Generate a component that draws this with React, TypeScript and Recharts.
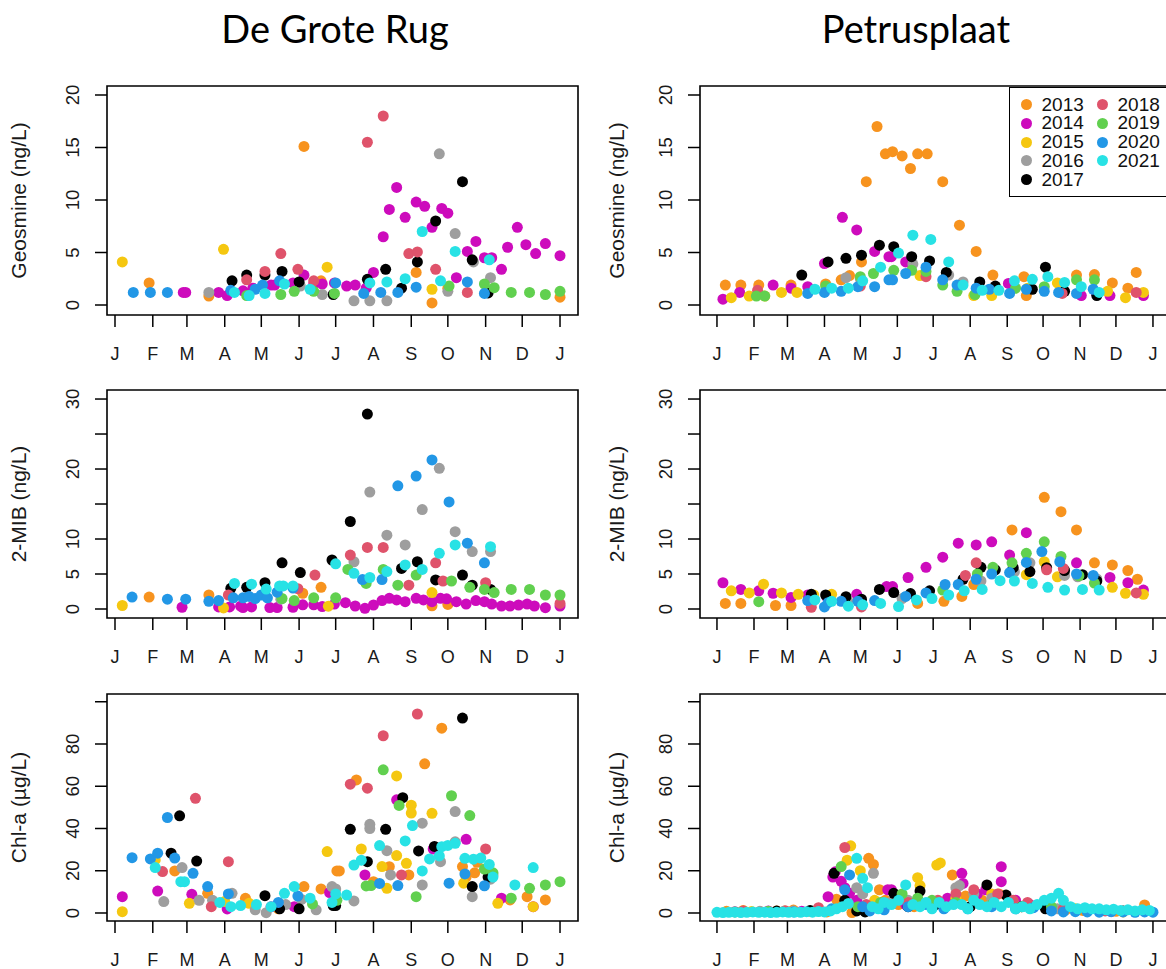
import React from "react";
import { ScatterChart, Scatter, XAxis, YAxis, ReferenceArea } from "recharts";

const FONT = '"Liberation Sans", Arial, sans-serif';

const YEARS = [2013, 2014, 2015, 2016, 2017, 2018, 2019, 2020, 2021];
const COLORS = ["#F7931E", "#CD0BBC", "#F5C710", "#9E9E9E", "#000000", "#DF536B", "#61D04F", "#2297E6", "#28E2E5"];

// day of year where each month starts
const MONTH_DAYS = [0, 31, 59, 90, 120, 151, 181, 212, 243, 273, 304, 334, 365];
const MONTH_LABELS = ["J", "F", "M", "A", "M", "J", "J", "A", "S", "O", "N", "D", "J"];

const GEO_TICKS = [0, 5, 10, 15, 20];
const MIB_TICKS = [0, 5, 10, 15, 20, 25, 30];
const MIB_LABELS = [0, 5, 10, 20, 30];
const CHL_TICKS = [0, 20, 40, 60, 80, 100];
const CHL_LABELS = [0, 20, 40, 60, 80];

type Pt = [number, number]; // [day of year, value]

// Geosmine, De Grote Rug
const RUG_GEOSMINE: Record<number, Pt[]> = {
  2013: [[28, 2.1], [77, 0.85], [155, 15.1], [169, 2.3], [247, 3.1], [260, 0.2], [273, 1.6], [365, 0.75]],
  2014: [[56, 1.2], [58, 1.2], [85, 1.2], [92, 0.9], [105, 1.35], [113, 1.6], [128, 1.9], [131, 1.9], [146, 2.1], [155, 2.85], [163, 2.0], [170, 2.0], [180, 2.1], [190, 1.8], [197, 1.9], [206, 1.6], [212, 3.1], [220, 6.5], [225, 9.1], [231, 11.2], [238, 8.35], [247, 9.8], [254, 9.4], [260, 7.4], [268, 9.2], [273, 8.75], [280, 2.6], [289, 5.1], [296, 6.05], [303, 4.5], [309, 4.5], [317, 3.4], [322, 5.5], [330, 7.4], [337, 5.75], [345, 4.9], [353, 5.85], [365, 4.7]],
  2015: [[6, 4.1], [89, 5.3], [174, 3.6], [260, 1.5]],
  2016: [[77, 1.2], [152, 1.8], [170, 1.0], [196, 0.4], [209, 0.4], [223, 0.4], [266, 14.4], [273, 1.3], [279, 6.8], [294, 4.1], [308, 2.6]],
  2017: [[96, 2.3], [108, 2.85], [123, 2.85], [137, 3.2], [151, 2.2], [179, 1.0], [207, 2.45], [222, 3.4], [235, 1.6], [248, 4.1], [263, 8.0], [285, 11.75], [293, 4.3], [306, 1.15]],
  2018: [[108, 2.4], [123, 3.2], [136, 4.9], [150, 3.4], [163, 2.3], [207, 15.5], [220, 18.0], [241, 4.9], [248, 5.05], [263, 3.4], [289, 1.2]],
  2019: [[108, 0.9], [136, 1.0], [147, 1.3], [163, 1.3], [180, 1.1], [274, 1.8], [303, 2.0], [311, 1.65], [325, 1.2], [340, 1.2], [353, 1.0], [365, 1.3]],
  2020: [[15, 1.2], [29, 1.2], [43, 1.2], [95, 1.4], [115, 1.5], [121, 1.9], [135, 2.3], [181, 2.1], [204, 1.1], [218, 1.2], [232, 1.2], [247, 1.7], [289, 2.2], [303, 1.1]],
  2021: [[98, 1.2], [110, 0.9], [123, 1.1], [139, 2.0], [160, 1.5], [209, 2.1], [223, 2.2], [238, 2.5], [252, 7.0], [267, 2.3], [279, 5.1], [307, 4.3]],
};

// Geosmine, Petrusplaat
const PET_GEOSMINE: Record<number, Pt[]> = {
  2013: [[7, 1.9], [20, 1.9], [35, 1.9], [62, 1.9], [91, 2.0], [104, 2.4], [111, 2.8], [121, 4.1], [125, 11.75], [134, 17.0], [141, 14.4], [147, 14.6], [155, 14.2], [162, 13.0], [168, 14.4], [176, 14.4], [189, 11.75], [203, 7.6], [217, 5.1], [231, 2.85], [257, 2.7], [259, 0.9], [301, 2.85], [316, 2.9], [331, 2.1], [344, 1.6], [351, 3.1]],
  2014: [[5, 0.55], [19, 1.2], [47, 1.9], [62, 1.6], [76, 1.75], [90, 3.95], [105, 8.35], [117, 7.15], [132, 5.1], [144, 4.6], [146, 4.6], [158, 4.1], [244, 2.05], [305, 0.9], [318, 1.0], [329, 0.9], [357, 0.9]],
  2015: [[12, 0.7], [27, 0.85], [40, 0.85], [54, 1.2], [67, 1.2], [170, 2.8], [215, 0.9], [230, 0.9], [260, 1.6], [285, 2.1], [327, 1.3], [342, 0.7], [357, 1.2]],
  2016: [[108, 2.6], [120, 2.5], [164, 3.9], [194, 2.85], [206, 2.2]],
  2017: [[71, 2.85], [93, 4.1], [108, 4.45], [121, 4.75], [136, 5.7], [148, 5.55], [163, 4.6], [178, 4.2], [192, 3.1], [220, 2.2], [233, 1.8], [264, 1.5], [275, 3.6], [291, 1.3], [318, 0.9]],
  2018: [[34, 1.4], [120, 1.8], [175, 2.7], [289, 1.1], [351, 1.2]],
  2019: [[33, 0.85], [40, 0.85], [91, 1.8], [120, 2.7], [131, 3.0], [148, 3.3], [163, 3.3], [175, 3.2], [189, 1.9], [201, 1.3], [216, 1.0], [250, 1.6], [274, 1.75], [301, 2.4], [316, 2.4]],
  2020: [[76, 1.1], [90, 1.2], [104, 1.3], [118, 1.75], [132, 1.75], [144, 2.4], [147, 2.4], [158, 3.0], [175, 3.6], [189, 2.4], [201, 1.9], [217, 1.6], [228, 1.5], [245, 1.1], [259, 1.5], [274, 1.3], [286, 1.2], [301, 1.1], [315, 1.5]],
  2021: [[82, 1.5], [96, 1.6], [110, 1.6], [122, 2.3], [137, 3.6], [152, 4.95], [164, 6.65], [179, 6.25], [194, 4.1], [206, 1.9], [222, 1.4], [236, 1.4], [249, 2.3], [264, 2.45], [277, 2.7], [291, 2.15], [305, 1.75], [320, 1.2]],
};

// 2-MIB, De Grote Rug
const RUG_MIB: Record<number, Pt[]> = {
  2013: [[28, 1.7], [77, 2.0], [154, 2.25], [169, 3.1], [260, 0.45], [273, 0.65]],
  2014: [[55, 0.25], [85, 0.3], [94, 0.3], [103, 0.4], [105, 0.2], [112, 0.3], [127, 0.2], [133, 0.2], [146, 0.25], [154, 0.6], [163, 0.6], [170, 0.35], [180, 0.7], [189, 0.9], [197, 0.43], [205, 0.1], [212, 0.57], [219, 1.2], [225, 1.52], [231, 1.29], [238, 1.05], [247, 1.52], [253, 1.29], [260, 1.05], [267, 1.52], [272, 1.45], [280, 1.05], [288, 0.7], [296, 1.2], [303, 1.05], [309, 0.7], [317, 0.43], [324, 0.43], [331, 0.57], [338, 0.7], [344, 0.43], [353, 0.19], [365, 0.43]],
  2015: [[6, 0.5], [89, 0.15], [175, 0.4], [260, 2.35]],
  2016: [[136, 1.4], [196, 6.75], [209, 16.7], [223, 10.55], [238, 9.15], [252, 14.2], [266, 20.1], [279, 11.05], [293, 8.2], [308, 8.2]],
  2017: [[95, 2.95], [108, 3.1], [123, 3.75], [137, 6.6], [152, 5.2], [178, 7.0], [193, 12.5], [207, 27.85], [235, 5.8], [248, 6.75], [263, 4.15], [285, 4.85], [293, 3.4], [308, 2.8]],
  2018: [[93, 2.0], [150, 2.9], [164, 4.85], [193, 7.7], [207, 8.8], [220, 8.8], [241, 3.4], [263, 6.6], [269, 4.0], [304, 3.75], [365, 0.8]],
  2019: [[137, 1.5], [147, 1.2], [163, 1.6], [181, 1.6], [191, 5.65], [206, 3.65], [220, 5.65], [232, 3.4], [247, 4.85], [276, 4.0], [291, 3.1], [303, 2.8], [311, 2.35], [325, 2.8], [340, 2.8], [353, 2.0], [365, 2.0]],
  2020: [[14, 1.7], [43, 1.4], [58, 1.4], [77, 1.1], [85, 1.2], [97, 1.6], [105, 1.6], [110, 1.8], [115, 1.5], [120, 2.0], [125, 1.6], [133, 2.4], [146, 3.0], [203, 4.2], [219, 4.2], [232, 17.6], [247, 19.0], [260, 21.3], [274, 15.3], [289, 9.4], [303, 6.6]],
  2021: [[98, 3.65], [112, 3.55], [124, 2.85], [135, 3.3], [138, 3.3], [146, 3.3], [181, 6.45], [196, 5.1], [209, 4.5], [223, 5.35], [238, 6.3], [252, 5.65], [266, 7.95], [279, 9.15], [308, 8.9]],
};

// 2-MIB, Petrusplaat
const PET_MIB: Record<number, Pt[]> = {
  2013: [[7, 0.8], [20, 0.8], [49, 0.5], [62, 0.5], [168, 0.8], [190, 1.1], [205, 1.8], [215, 3.5], [247, 11.3], [274, 15.95], [288, 13.9], [301, 11.3], [316, 6.6], [331, 6.3], [344, 5.5], [352, 4.25]],
  2014: [[5, 3.75], [20, 2.8], [35, 2.6], [47, 2.25], [62, 1.65], [76, 2.0], [92, 1.7], [117, 2.1], [142, 3.2], [147, 3.2], [160, 4.5], [175, 5.95], [189, 7.4], [202, 9.4], [217, 9.15], [230, 9.6], [245, 7.7], [259, 10.9], [301, 6.6], [329, 4.5], [344, 3.75], [357, 2.7]],
  2015: [[12, 2.6], [27, 2.3], [39, 3.55], [54, 2.3], [68, 2.1], [81, 2.0], [96, 2.1], [259, 4.9], [274, 6.75], [285, 4.6], [331, 3.1], [342, 2.25], [357, 2.1]],
  2016: [[110, 1.0], [155, 1.5], [221, 4.0], [249, 5.3], [262, 6.6], [291, 4.8], [302, 4.6], [318, 4.3]],
  2017: [[79, 2.1], [91, 2.0], [108, 1.75], [121, 1.4], [136, 2.8], [148, 2.35], [162, 2.2], [178, 2.6], [206, 4.25], [221, 5.95], [233, 5.6], [248, 5.9], [262, 5.35], [276, 5.9], [291, 5.5], [306, 4.9], [318, 4.0]],
  2018: [[79, 0.25], [121, 0.3], [208, 4.8], [217, 6.6], [276, 5.6], [290, 5.8], [351, 2.3]],
  2019: [[35, 1.05], [189, 2.7], [218, 5.0], [231, 5.95], [247, 6.6], [259, 7.95], [274, 9.6], [288, 7.5], [303, 4.75], [316, 3.7]],
  2020: [[76, 1.2], [90, 0.3], [93, 0.9], [104, 1.1], [118, 1.1], [132, 1.2], [158, 1.8], [175, 2.3], [191, 3.5], [202, 3.5], [217, 4.25], [230, 5.0], [245, 5.2], [259, 6.65], [272, 8.2], [287, 6.75], [301, 5.0], [315, 4.8]],
  2021: [[82, 1.3], [96, 1.1], [110, 0.4], [122, 0.6], [137, 0.8], [152, 0.35], [167, 1.3], [180, 1.5], [194, 2.0], [207, 2.6], [222, 2.8], [237, 4.05], [249, 4.0], [264, 3.65], [277, 3.1], [291, 2.7], [306, 2.8], [320, 2.7]],
};

// Chl-a, De Grote Rug
const RUG_CHL: Record<number, Pt[]> = {
  2013: [[49, 19.9], [76, 9.3], [107, 6.95], [134, 2.0], [155, 12.5], [169, 11.4], [182, 19.9], [184, 19.9], [198, 63], [212, 14.8], [225, 21.9], [241, 18], [254, 70.6], [268, 87.5], [285, 22], [288, 17], [295, 19], [297, 24], [324, 6.2], [338, 7.7], [353, 6.2]],
  2014: [[6, 7.7], [35, 10.4], [63, 8.85], [92, 1.9], [128, 2.9], [147, 3.0], [176, 9.7], [180, 11], [205, 18], [231, 53.6], [261, 30.3], [288, 34.9], [317, 7.0], [343, 3.0]],
  2015: [[6, 0.6], [33, 25.1], [61, 4.6], [90, 5.5], [110, 4.6], [174, 29.1], [202, 30.3], [219, 22], [223, 11.7], [231, 27.2], [231, 64.9], [239, 23.5], [243, 51], [243, 47.3], [260, 47.2], [286, 14.1], [314, 4.6], [343, 3.0]],
  2016: [[40, 5.4], [55, 21.5], [69, 6.0], [80, 6.0], [96, 9.3], [115, 1.5], [124, 0.15], [140, 4.0], [153, 6.4], [165, 1.5], [178, 12.5], [181, 11.4], [196, 5.7], [209, 42], [209, 40], [223, 29.5], [226, 18], [252, 42.5], [252, 13.3], [267, 24.3], [279, 48], [279, 33.7], [293, 7.7], [308, 16], [310, 18]],
  2017: [[46, 28.3], [53, 46], [67, 24.6], [123, 8.2], [135, 2.0], [151, 2.0], [179, 3.5], [181, 3.5], [193, 39.6], [207, 24.3], [222, 39.6], [236, 54.6], [249, 29.4], [262, 31.5], [285, 92.3], [293, 12.5], [306, 17]],
  2018: [[39, 19.6], [66, 54.3], [79, 3.0], [93, 24.3], [193, 61], [207, 59.1], [220, 83.9], [235, 18], [248, 94.2], [304, 30.3]],
  2019: [[162, 4.3], [182, 6.0], [206, 12.8], [210, 13], [220, 67.8], [233, 50.9], [247, 7.7], [276, 55.5], [291, 46.1], [303, 20.8], [310, 19], [325, 7.0], [340, 11.7], [353, 13.3], [365, 14.8]],
  2020: [[14, 26.2], [29, 25.6], [35, 28.3], [43, 45.2], [49, 26], [64, 18.8], [76, 12.5], [93, 9.0], [134, 5.0], [150, 8.0], [217, 14], [232, 13], [274, 14.1], [287, 18.5], [303, 12.9]],
  2021: [[33, 21.5], [54, 14.8], [57, 14.8], [86, 5.0], [95, 3.0], [103, 3.5], [116, 4.0], [128, 3.0], [139, 9.3], [147, 12.5], [160, 7.0], [178, 5.0], [181, 9.0], [190, 8.5], [196, 22.7], [202, 25], [217, 31.9], [238, 34.1], [244, 41.4], [252, 19.9], [258, 25.6], [266, 27], [268, 31.4], [273, 32], [279, 33], [287, 25.9], [294, 25.5], [300, 26], [307, 23], [310, 17], [328, 13.3], [343, 21.5]],
};

// Chl-a, Petrusplaat
const PET_CHL: Record<number, Pt[]> = {
  2013: [[8, 0.8], [22, 1.2], [36, 0.6], [50, 1.0], [64, 1.4], [78, 0.8], [92, 0.5], [100, 6.5], [113, 0.2], [127, 25.9], [131, 23], [136, 11], [141, 6], [152, 4], [165, 3], [180, 5], [197, 18], [208, 8], [222, 6], [236, 9], [250, 4], [264, 3], [278, 2], [292, 1.5], [306, 1.2], [320, 1.0], [334, 0.8], [358, 3.8]],
  2014: [[15, 0.6], [43, 1.0], [71, 0.8], [93, 7.7], [97, 17], [99, 19.5], [104, 15], [107, 12], [111, 9.3], [117, 6], [143, 11], [146, 11], [158, 4], [170, 5], [193, 7], [205, 18.8], [206, 14], [218, 9], [225, 11], [238, 21.9], [238, 14.8], [250, 6], [262, 4], [290, 1.5], [330, 0.8]],
  2015: [[29, 0.7], [57, 1.0], [85, 0.9], [109, 25], [112, 31.8], [120, 20], [132, 6], [150, 8], [168, 16.7], [170, 13], [184, 22.7], [187, 23.7], [200, 7], [215, 5], [230, 9], [245, 6], [262, 3], [300, 2], [340, 0.5]],
  2016: [[36, 0.8], [64, 0.9], [117, 12], [122, 9], [131, 18.8], [145, 5], [160, 6], [178, 4], [200, 12], [203, 13], [215, 9], [230, 7], [248, 5], [265, 3], [285, 2]],
  2017: [[50, 0.9], [78, 1.2], [98, 18.8], [107, 6], [117, 1], [124, 0.5], [148, 9.3], [160, 3], [170, 10.4], [183, 4], [212, 3], [226, 13.3], [242, 8.5], [255, 3], [275, 2], [300, 1.5], [320, 1.2], [340, 1.0]],
  2018: [[22, 0.9], [57, 1.1], [85, 2.5], [107, 31], [125, 4], [140, 4], [160, 5], [185, 6], [200, 9], [215, 11], [235, 9], [248, 6], [260, 5], [290, 2], [325, 1.0]],
  2019: [[15, 0.5], [43, 0.8], [104, 22], [118, 3], [137, 5], [155, 9], [168, 7], [180, 6], [200, 5], [230, 4], [255, 3], [280, 3], [310, 1.0]],
  2020: [[64, 0.5], [96, 2], [107, 11], [111, 18], [122, 3], [128, 1], [140, 1.5], [160, 3], [175, 4], [190, 2], [210, 2], [230, 3], [250, 2], [265, 2.5], [280, 1.0], [290, 0.5], [300, 0.6], [310, 0.5], [320, 0.4], [330, 0.6], [340, 0.5], [350, 0.3], [358, 0.5], [365, 0.4]],
  2021: [[0, 0.3], [5, 0.2], [10, 0.3], [15, 0.4], [20, 0.2], [25, 0.3], [30, 0.5], [35, 0.3], [40, 0.4], [45, 0.2], [50, 0.3], [55, 0.5], [60, 0.3], [65, 0.4], [70, 0.3], [75, 0.6], [80, 0.4], [85, 0.7], [90, 0.5], [95, 1.0], [100, 2.0], [105, 3.0], [110, 4.5], [117, 25.9], [122, 16.4], [126, 12], [130, 3], [135, 2], [140, 5], [146, 4], [152, 6], [158, 13.3], [164, 4], [170, 3], [175, 5], [180, 2], [186, 5], [192, 3], [198, 4], [205, 4], [210, 2], [215, 6], [220, 4], [226, 3], [232, 5], [238, 3], [244, 5], [250, 2], [256, 3], [262, 2], [268, 4], [274, 6], [280, 7], [286, 9.3], [290, 6], [296, 3], [302, 2], [308, 2.5], [314, 2], [320, 2], [326, 1.5], [332, 1.8], [338, 1.2], [344, 1.5], [350, 1.0], [356, 1.5], [362, 1.2]],
};

// panel geometry (px on the page)
const COLS = {
  rug: { left: 0, boxLeft: 107, boxRight: 578, xDomain: [-6.56, 379.75] as [number, number], titleOffset: 19 },
  pet: { left: 600, boxLeft: 700, boxRight: 1171, xDomain: [-14.2, 380.1] as [number, number], titleOffset: 17 },
};
const ROWS = {
  geo: { boxTop: 86, boxBottom: 315, yDomain: [-0.952, 20.857] as [number, number], ticks: GEO_TICKS, labels: GEO_TICKS, title: "Geosmine (ng/L)" },
  mib: { boxTop: 390, boxBottom: 618, yDomain: [-1.286, 31.29] as [number, number], ticks: MIB_TICKS, labels: MIB_LABELS, title: "2-MIB (ng/L)" },
  chl: { boxTop: 694, boxBottom: 921, yDomain: [-3.79, 103.67] as [number, number], ticks: CHL_TICKS, labels: CHL_LABELS, title: "Chl-a (µg/L)" },
};

const toPoints = (pts: Pt[]) => pts.map(([x, y]) => ({ x, y }));

function makeYTick(shown: number[]) {
  return (props: any) => {
    const { x, y, payload } = props;
    if (!shown.includes(payload.value)) return <g />;
    return (
      <text
        x={0}
        y={0}
        transform={`translate(${x - 23},${y}) rotate(-90)`}
        textAnchor="middle"
        dominantBaseline="central"
        fontSize={18.5}
        fontFamily={FONT}
        fill="#1a1a1a"
      >
        {payload.value}
      </text>
    );
  };
}

function Panel({ col, row, data }: { col: typeof COLS.rug; row: typeof ROWS.geo; data: Record<number, Pt[]> }) {
  const padTop = 10;
  const padRight = 20;
  const axisH = 60;
  const w = col.boxRight - col.left + padRight;
  const h = row.boxBottom - row.boxTop + padTop + axisH;
  return (
    <div style={{ position: "absolute", left: col.left, top: row.boxTop - padTop }}>
      <ScatterChart width={w} height={h} margin={{ top: padTop, right: padRight, bottom: 0, left: 0 }}>
        <XAxis
          dataKey="x"
          type="number"
          domain={col.xDomain}
          allowDataOverflow
          ticks={MONTH_DAYS}
          interval={0}
          tickFormatter={(v) => MONTH_LABELS[MONTH_DAYS.indexOf(v)]}
          height={axisH}
          axisLine={false}
          tickLine={{ stroke: "#000", strokeWidth: 1.5 }}
          tickSize={12}
          tickMargin={20}
          tick={{ fontSize: 18, fontFamily: FONT, fill: "#1a1a1a" }}
        />
        <YAxis
          dataKey="y"
          type="number"
          domain={row.yDomain}
          allowDataOverflow
          ticks={row.ticks}
          interval={0}
          width={col.boxLeft - col.left}
          axisLine={false}
          tickLine={{ stroke: "#000", strokeWidth: 1.5 }}
          tickSize={12}
          tickMargin={0}
          tick={makeYTick(row.labels)}
          label={{
            value: row.title,
            angle: -90,
            position: "insideLeft",
            offset: col.titleOffset,
            style: { textAnchor: "middle", fontSize: 21, fontFamily: FONT, fill: "#1a1a1a" },
          }}
        />
        {YEARS.map((yr, i) => (
          <Scatter
            key={yr}
            name={String(yr)}
            data={toPoints(data[yr])}
            fill={COLORS[i]}
            isAnimationActive={false}
            shape={(p: any) => <circle cx={p.cx} cy={p.cy} r={5.5} fill={COLORS[i]} />}
          />
        ))}
        <ReferenceArea
          x1={col.xDomain[0]}
          x2={col.xDomain[1]}
          y1={row.yDomain[0]}
          y2={row.yDomain[1]}
          fill="none"
          stroke="#000"
          strokeWidth={1.6}
          ifOverflow="visible"
        />
      </ScatterChart>
    </div>
  );
}

function YearLegend() {
  return (
    <div
      style={{
        position: "absolute",
        left: 1009,
        top: 87,
        width: 172,
        height: 110,
        border: "1.5px solid #000",
        boxSizing: "border-box",
        background: "#fff",
      }}
    >
      {YEARS.map((yr, i) => {
        const c = i < 5 ? 0 : 1;
        const r = i < 5 ? i : i - 5;
        return (
          <div
            key={yr}
            style={{
              position: "absolute",
              left: 11 + c * 76,
              top: 7 + r * 18.75,
              height: 19,
              display: "flex",
              alignItems: "center",
              fontFamily: FONT,
              fontSize: 19,
              color: "#111",
              whiteSpace: "nowrap",
            }}
          >
            <span style={{ width: 11, height: 11, borderRadius: "50%", background: COLORS[i], marginRight: 9.5, flex: "none" }} />
            {yr}
          </div>
        );
      })}
    </div>
  );
}

const titleStyle: React.CSSProperties = {
  position: "absolute",
  top: 9,
  width: 400,
  textAlign: "center",
  fontFamily: "Lato, 'Open Sans', sans-serif",
  fontSize: 38,
  lineHeight: 1,
  color: "#000",
};

export default function App() {
  return (
    <div style={{ position: "absolute", left: 0, top: 0, width: 1166, height: 969, overflow: "hidden", background: "#fff" }}>
      <div style={{ ...titleStyle, left: 335 - 200 }}>De Grote Rug</div>
      <div style={{ ...titleStyle, left: 916 - 200 }}>Petrusplaat</div>
      <Panel col={COLS.rug} row={ROWS.geo} data={RUG_GEOSMINE} />
      <Panel col={COLS.pet} row={ROWS.geo} data={PET_GEOSMINE} />
      <Panel col={COLS.rug} row={ROWS.mib} data={RUG_MIB} />
      <Panel col={COLS.pet} row={ROWS.mib} data={PET_MIB} />
      <Panel col={COLS.rug} row={ROWS.chl} data={RUG_CHL} />
      <Panel col={COLS.pet} row={ROWS.chl} data={PET_CHL} />
      <YearLegend />
    </div>
  );
}
